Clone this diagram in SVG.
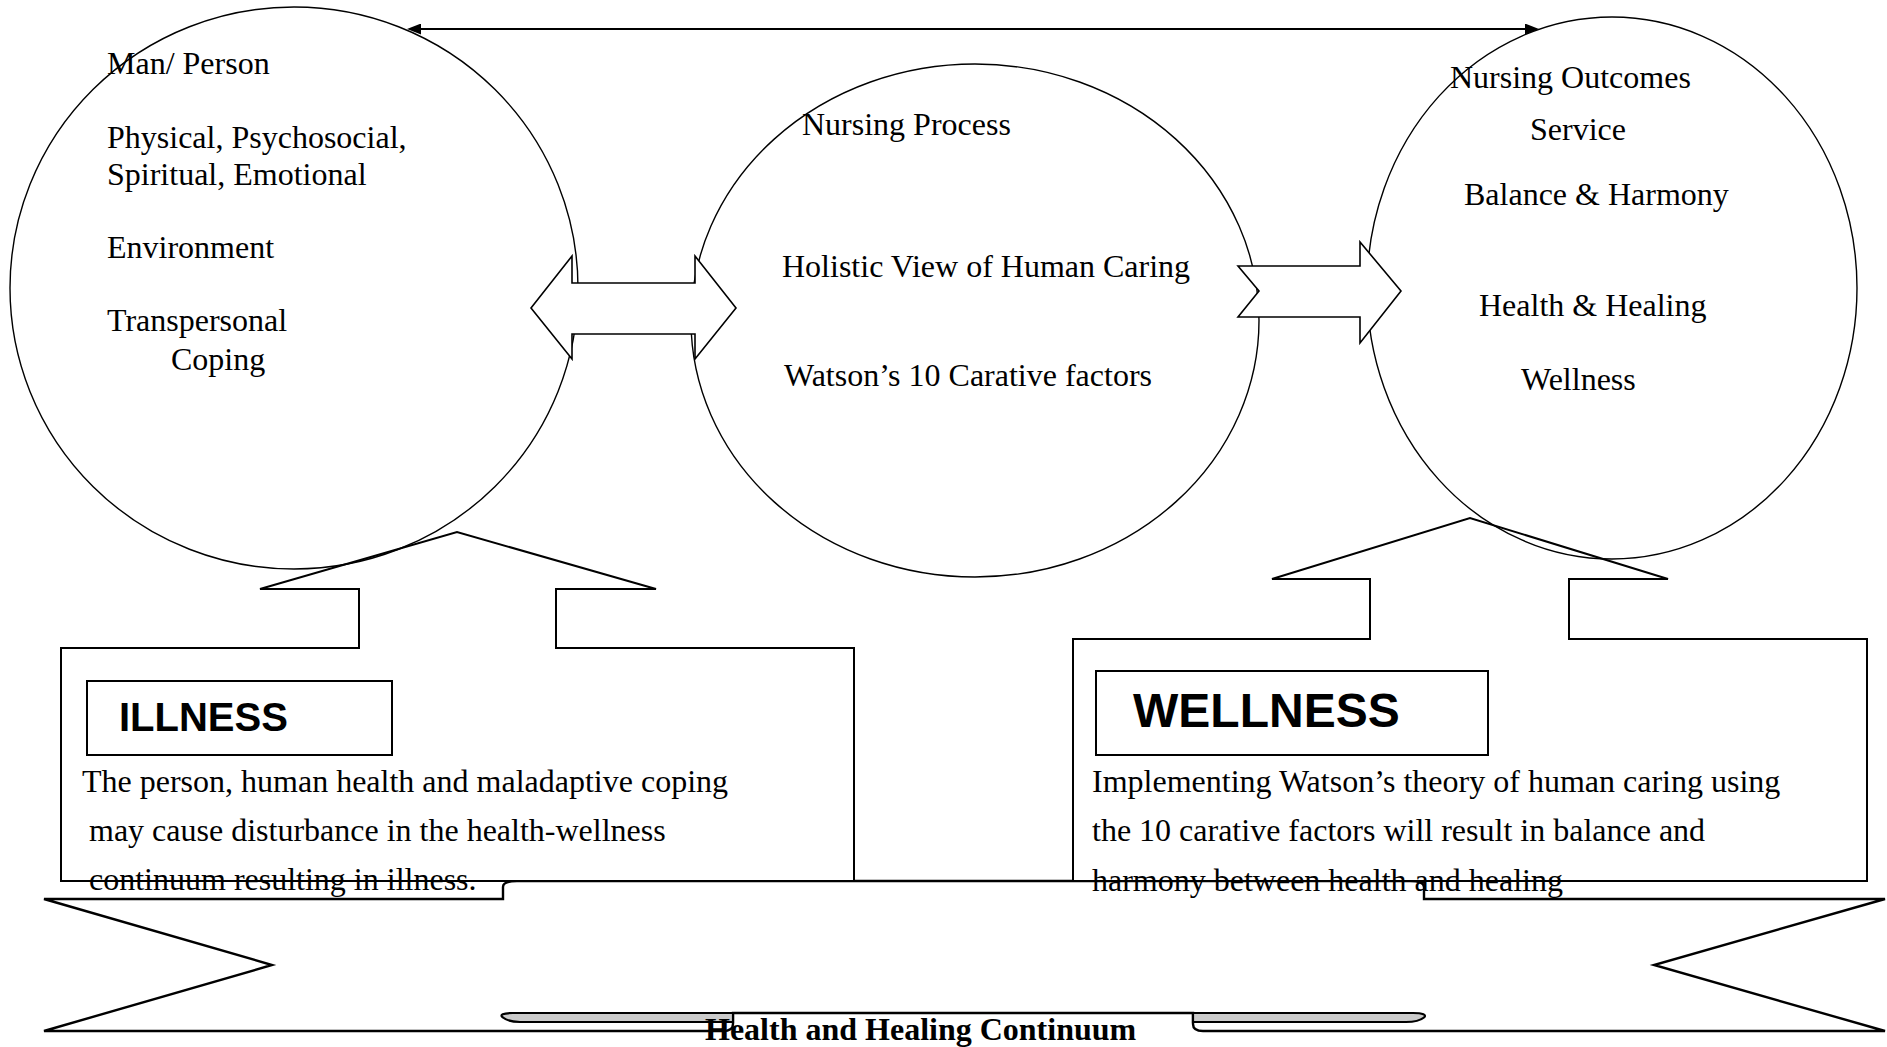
<svg xmlns="http://www.w3.org/2000/svg" width="1887" height="1047" viewBox="0 0 1887 1047">
<style>
  .serif { font-family: "Liberation Serif", "Times New Roman", serif; font-size: 32px; fill: #000; }
  .bold { font-weight: bold; }
  .label { font-family: "Liberation Sans", Arial, sans-serif; font-weight: bold; fill: #000; }
  .circle { fill: none; stroke: #000; stroke-width: 1.4; }
  .callout { fill: #fff; stroke: #000; stroke-width: 2; stroke-linejoin: miter; }
  .labelbox { fill: #fff; stroke: #000; stroke-width: 2; }
  .block { fill: #fff; stroke: #000; stroke-width: 1.6; stroke-linejoin: miter; }
  .ribbon { fill: #fff; stroke: #000; stroke-width: 2.4; stroke-linejoin: miter; }
  .fold { fill: #cbcbcb; stroke: #000; stroke-width: 2.2; }
  .conn { stroke: #000; stroke-width: 2; fill: none; }
</style>
<defs>
  <marker id="head" markerUnits="userSpaceOnUse" viewBox="0 0 14 11" markerWidth="14" markerHeight="11" refX="0" refY="5.5" orient="auto-start-reverse">
    <path d="M0,0 L14,5.5 L0,11 Z" fill="#000"/>
  </marker>
</defs>
<rect width="1887" height="1047" fill="#fff"/>

<!-- Bottom ribbon -->
<g id="ribbon">
  <path class="ribbon" d="M44,899 H503 V887 C503,883 508,881 517,881 H1410 C1419,881 1424,883 1424,887 V899 H1885 L1654,965 L1885,1031 H1203 C1197,1031 1193,1029 1193,1024 V1013 H733 V1024 C733,1029 729,1031 723,1031 H44 L272,965 Z"/>
  <path class="fold" d="M733,1013 H513 C503,1013 499,1015 503,1017.5 C506,1020 511,1022 520,1022 H733 Z"/>
  <path class="fold" d="M1193,1013 H1413 C1423,1013 1427,1015 1424,1017.5 C1421,1020 1416,1022 1406,1022 H1193 Z"/>
  <text class="serif bold" x="705" y="1040">Health and Healing Continuum</text>
</g>

<!-- Illness callout -->
<g id="illness">
  <path class="callout" d="M61,648 H359 V589 H260 L457,532 L656,589 H556 V648 H854 V881 H61 Z"/>
  <rect class="labelbox" x="87" y="681" width="305" height="74"/>
  <text class="label" x="119" y="731" font-size="40">ILLNESS</text>
  <text class="serif" x="82" y="792">The person, human health and maladaptive coping</text>
  <text class="serif" x="89" y="841">may cause disturbance in the health-wellness</text>
  <text class="serif" x="89" y="890">continuum resulting in illness.</text>
</g>

<!-- Wellness callout -->
<g id="wellness">
  <path class="callout" d="M1073,639 H1370 V579 H1272 L1470,518 L1668,579 H1569 V639 H1867 V881 H1073 Z"/>
  <rect class="labelbox" x="1096" y="671" width="392" height="84"/>
  <text class="label" x="1133" y="727" font-size="48">WELLNESS</text>
  <text class="serif" x="1092" y="792">Implementing Watson’s theory of human caring using</text>
  <text class="serif" x="1092" y="841">the 10 carative factors will result in balance and</text>
  <text class="serif" x="1092" y="891">harmony between health and healing</text>
</g>

<!-- Left circle -->
<g id="person">
  <ellipse class="circle" cx="294" cy="288" rx="284" ry="281"/>
  <text class="serif" x="107" y="74">Man/ Person</text>
  <text class="serif" x="107" y="148">Physical, Psychosocial,</text>
  <text class="serif" x="107" y="185">Spiritual, Emotional</text>
  <text class="serif" x="107" y="258">Environment</text>
  <text class="serif" x="107" y="331">Transpersonal</text>
  <text class="serif" x="171" y="370">Coping</text>
</g>

<!-- Middle circle -->
<g id="nursing-process">
  <ellipse class="circle" cx="975" cy="320.5" rx="284" ry="256.5"/>
  <text class="serif" x="802" y="135">Nursing Process</text>
  <text class="serif" x="782" y="277">Holistic View of Human Caring</text>
  <text class="serif" x="784" y="386">Watson’s 10 Carative factors</text>
</g>

<!-- Right circle -->
<g id="outcomes">
  <ellipse class="circle" cx="1612" cy="288" rx="245" ry="271"/>
  <text class="serif" x="1450" y="88">Nursing Outcomes</text>
  <text class="serif" x="1530" y="140">Service</text>
  <text class="serif" x="1464" y="205">Balance &amp; Harmony</text>
  <text class="serif" x="1479" y="316">Health &amp; Healing</text>
  <text class="serif" x="1521" y="390">Wellness</text>
</g>

<!-- Connectors -->
<g id="connectors">
  <line class="conn" x1="421" y1="29" x2="1525" y2="29" marker-start="url(#head)" marker-end="url(#head)"/>
  <path class="block" d="M531,308 L572,256 V283 H695 V256 L736,308 L695,359 V334 H572 V359 Z"/>
  <path class="block" d="M1238,266 H1360 V242 L1401,291 L1360,343 V317 H1238 L1259,291 Z"/>
</g>
</svg>
